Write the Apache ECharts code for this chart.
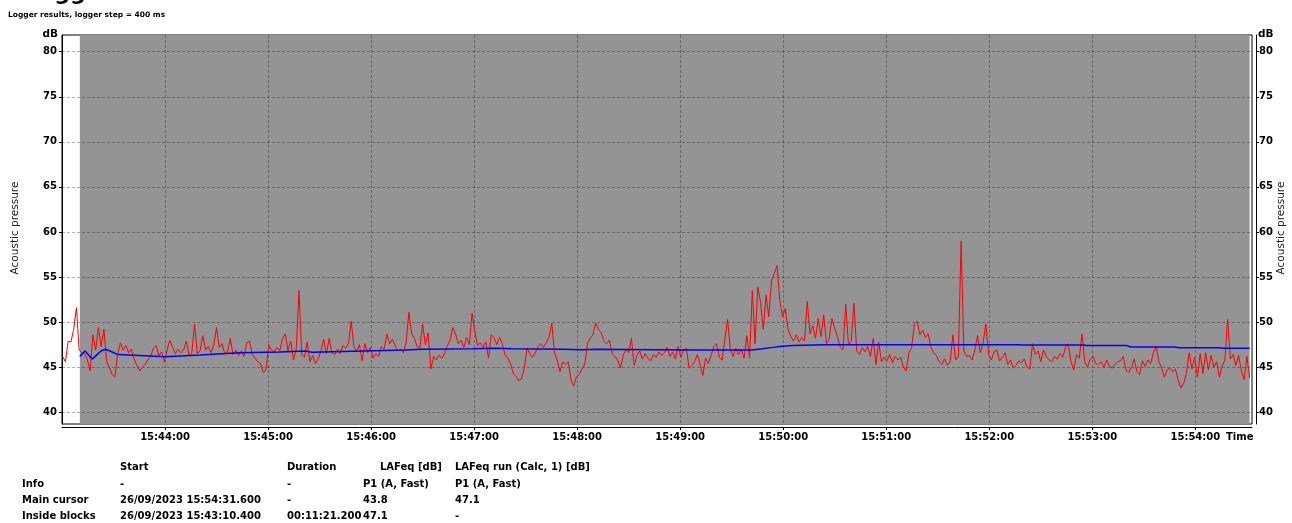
<!DOCTYPE html>
<html>
<head>
<meta charset="utf-8">
<script src="https://cdn.jsdelivr.net/npm/echarts@6/dist/echarts.min.js"></script>
<style>
  html, body { margin: 0; padding: 0; background: #fff; }
  #chart { width: 1292px; height: 523px; }
</style>
</head>
<body>
<div id="chart"></div>
<script>
// time is in seconds after 15:43:00
const tickSeconds = [60, 120, 180, 240, 300, 360, 420, 480, 540, 600, 660]
const tickLabels = ['15:44:00', '15:45:00', '15:46:00', '15:47:00', '15:48:00', '15:49:00',
  '15:50:00', '15:51:00', '15:52:00', '15:53:00', '15:54:00']
const dbTicks = [40, 45, 50, 55, 60, 65, 70, 75, 80]

// gray block = "Inside blocks" period
const blockStart = 10.4
const blockEnd = 691.6

// LAFeq [dB], P1 (A, Fast), read every 1.6 s from 15:43:00.4
const lafeqStart = 0.4
const lafeqStep = 1.6
const lafeq = [
  46.2, 45.6, 47.9, 47.8, 49.2, 51.6, 46.9, 46.6, 46.5, 45.8,
  44.6, 48.6, 46.9, 49.4, 47.3, 49.2, 45.6, 45.0, 44.2, 43.9,
  46.4, 47.7, 46.9, 47.4, 46.6, 47.0, 45.9, 45.2, 44.6, 45.0,
  45.3, 45.8, 46.2, 47.1, 47.4, 46.3, 46.7, 45.6, 46.9, 48.0,
  47.2, 46.5, 47.0, 46.6, 46.9, 47.9, 46.3, 46.6, 49.8, 46.5,
  46.8, 48.5, 46.9, 47.3, 46.6, 47.5, 49.4, 47.2, 47.6, 46.5,
  46.7, 48.2, 46.4, 46.9, 46.3, 46.8, 46.2, 47.7, 47.9, 46.4,
  46.0, 45.6, 45.4, 44.4, 44.7, 47.5, 46.9, 46.7, 47.2, 46.8,
  48.2, 48.7, 46.8, 47.9, 45.8, 47.0, 53.5, 46.4, 46.1, 47.8,
  45.6, 46.3, 45.4, 45.9, 46.8, 48.1, 46.5, 48.2, 46.6, 46.4,
  47.0, 46.5, 47.4, 47.1, 47.6, 50.1, 47.3, 46.8, 47.5, 45.7,
  47.6, 46.6, 47.2, 46.0, 46.5, 46.2, 47.3, 47.0, 48.7, 47.6,
  48.1, 47.4, 46.8, 47.0, 46.6, 47.7, 51.1, 48.7, 48.2, 47.3,
  47.1, 49.8, 47.5, 48.8, 44.8, 46.2, 45.8, 46.3, 46.0, 46.5,
  47.4, 48.0, 49.4, 48.7, 47.6, 48.0, 47.2, 48.3, 47.5, 51.0,
  49.0, 47.4, 47.7, 47.2, 47.8, 46.0, 48.6, 48.3, 47.5, 48.3,
  47.6, 46.4, 46.0, 45.4, 44.3, 44.0, 43.5, 43.7, 44.9, 47.1,
  46.5, 46.1, 46.6, 47.3, 47.6, 47.2, 47.7, 48.3, 49.9, 46.6,
  45.8, 44.5, 45.6, 45.3, 45.6, 43.6, 42.9, 43.9, 44.2, 44.8,
  45.3, 47.6, 48.2, 48.6, 49.9, 49.2, 48.8, 47.9, 47.6, 48.0,
  46.5, 46.2, 45.8, 44.9, 46.3, 47.0, 46.6, 48.2, 45.2, 46.3,
  46.8, 45.9, 46.5, 46.0, 45.7, 46.4, 46.1, 46.7, 46.3, 46.6,
  47.2, 46.2, 46.7, 45.9, 47.3, 46.1, 46.9, 47.1, 44.9, 45.2,
  45.6, 46.4, 45.3, 44.1, 46.0, 45.4, 46.3, 47.3, 47.6, 46.1,
  45.8, 48.1, 50.3, 47.0, 46.2, 47.1, 46.4, 47.0, 46.0, 48.5,
  46.0, 53.5, 47.6, 53.9, 52.2, 49.2, 53.0, 50.6, 54.6, 55.4,
  56.3, 52.4, 50.6, 51.5, 49.2, 48.4, 47.9, 48.6, 47.8, 48.3,
  47.9, 52.3, 48.7, 49.6, 48.2, 50.4, 48.4, 50.8, 47.6, 48.2,
  50.4, 49.3, 48.4, 47.2, 46.9, 52.0, 47.5, 47.9, 52.1, 46.8,
  46.4, 47.2, 46.7, 47.3, 46.2, 48.2, 45.3, 47.8, 45.6, 46.1,
  45.7, 46.4, 45.5, 46.2, 45.8, 46.1, 45.0, 44.6, 46.6, 47.2,
  49.8, 50.1, 48.6, 49.1, 48.3, 48.7, 47.2, 46.6, 46.3, 45.6,
  45.3, 45.9, 45.2, 45.6, 48.6, 45.8, 46.2, 59.0, 46.8, 46.2,
  46.3, 45.8, 46.9, 48.5, 46.6, 47.7, 49.8, 46.4, 45.8, 46.7,
  46.9, 45.7, 46.1, 46.6, 45.3, 45.8, 44.9, 45.2, 45.7, 45.5,
  45.9, 45.0, 44.8, 47.6, 46.4, 46.8, 45.6, 46.9, 46.2, 45.8,
  45.6, 46.2, 45.9, 46.5, 46.1, 47.2, 47.6, 45.6, 44.7, 46.4,
  46.0, 48.7, 45.6, 45.0, 45.9, 46.2, 45.4, 45.3, 45.6, 45.0,
  45.8, 45.1, 44.9, 45.3, 45.6, 45.7, 46.2, 44.7, 44.4, 45.0,
  45.9, 44.5, 44.2, 45.7, 45.1, 45.8, 45.4, 46.6, 47.3, 45.6,
  44.9, 43.9, 44.7, 44.9, 44.5, 44.8, 43.6, 42.7, 43.2, 44.3,
  46.6, 44.8, 46.1, 43.9, 46.5, 44.3, 46.6, 44.7, 46.3, 45.0,
  45.6, 43.9, 45.1, 45.8, 50.3, 45.9, 46.4, 45.2, 46.3, 44.6,
  43.6, 46.2, 43.8
]

// LAFeq run (Calc, 1) [dB]
const runTimes = [10.4, 13.4, 15.2, 17.6, 20.4, 22.8, 25.2, 28.0, 32.4, 45.2,
  60.0, 80.4, 103.6, 126.8, 141.6, 145.6, 163.6, 188.0, 199.6, 209.6,
  238.8, 252.0, 262.4, 291.2, 302.8, 311.6, 346.4, 371.6, 401.6, 408.0,
  414.0, 418.0, 425.6, 444.4, 556.8, 559.2, 594.4, 596.8, 620.0, 622.4,
  648.0, 650.4, 674.0, 676.4, 691.6]
const runValues = [46.2, 46.8, 46.4, 45.9, 46.4, 46.8, 47.0, 46.8, 46.4, 46.3,
  46.15, 46.35, 46.6, 46.7, 46.8, 46.65, 46.75, 46.85, 46.9, 47.0,
  47.05, 47.1, 47.05, 47.0, 46.95, 47.0, 46.95, 46.9, 46.9, 47.05,
  47.2, 47.3, 47.4, 47.5, 47.5, 47.45, 47.45, 47.4, 47.4, 47.25,
  47.25, 47.15, 47.15, 47.1, 47.1]

// results table under the chart
const tableHeader = ['Start', 'Duration', 'LAFeq [dB]', 'LAFeq run (Calc, 1) [dB]']
const tableRows = [
  ['Info', '-', '-', 'P1 (A, Fast)', 'P1 (A, Fast)'],
  ['Main cursor', '26/09/2023 15:54:31.600', '-', '43.8', '47.1'],
  ['Inside blocks', '26/09/2023 15:43:10.400', '00:11:21.200', '47.1', '-'],
]

const FONT = '"DejaVu Sans", Verdana, sans-serif'
const boldLabel = { fontFamily: FONT, fontWeight: 'bold', fontSize: 10, color: '#000' }
const gridDash = { color: 'rgba(0,0,0,0.3)', width: 1, type: [3, 2] }

function txt(x, y, text, size, opts, extra) {
  return Object.assign({
    type: 'text', x: x, y: y, silent: true,
    style: Object.assign({
      text: text,
      font: 'bold ' + size + 'px ' + FONT,
      fill: '#000',
      align: 'left',
      verticalAlign: 'middle',
    }, opts || {}),
  }, extra || {})
}

const axisName = { font: '10.5px ' + FONT, fill: '#222', align: 'center' }
const graphics = [
  // page heading, mostly above the visible area
  txt(25, 5, 'Logger', 22, { verticalAlign: 'bottom' }),
  txt(8, 15, 'Logger results, logger step = 400 ms', 7.5),
  txt(58, 34, 'dB', 10.5, { align: 'right' }),
  txt(1258, 34, 'dB', 10.5),
  txt(1226, 437, 'Time', 10),
  txt(15, 228, 'Acoustic pressure', 10.5, axisName, { rotation: Math.PI / 2 }),
  txt(1281, 228, 'Acoustic pressure', 10.5, axisName, { rotation: Math.PI / 2 }),
]
const headerX = [120, 287, 380, 455]
tableHeader.forEach((h, i) => graphics.push(txt(headerX[i], 467, h, 10)))
const colX = [22, 120, 287, 363, 455]
tableRows.forEach((row, r) => {
  row.forEach((cell, c) => graphics.push(txt(colX[c], 484 + r * 16, cell, 10)))
})

function yAxisDef(pos, offset, split) {
  return {
    type: 'value', position: pos, min: 38.7, max: 81.85, offset: offset,
    axisLine: { show: true, lineStyle: { color: '#000', width: 1 } },
    axisTick: { show: true, customValues: dbTicks, length: 3, lineStyle: { color: '#000' } },
    axisLabel: Object.assign({ customValues: dbTicks, margin: 3 }, boldLabel),
    splitLine: { show: split, lineStyle: gridDash },
  }
}

const chart = echarts.init(document.getElementById('chart'))
chart.setOption({
  animation: false,
  grid: {
    left: 62, right: 40, top: 35, bottom: 99, z: -2,
    outerBoundsMode: 'none', containLabel: false,
    show: true, backgroundColor: '#fff', borderColor: '#000', borderWidth: 1,
  },
  xAxis: {
    type: 'value', min: 0, max: 693, offset: 3,
    axisLine: { onZero: false, lineStyle: { color: '#000', width: 1 } },
    axisTick: { customValues: tickSeconds, length: 3, lineStyle: { color: '#000' } },
    axisLabel: Object.assign({
      customValues: tickSeconds, margin: 5,
      formatter: v => tickLabels[tickSeconds.indexOf(v)] || '',
    }, boldLabel),
    splitLine: { show: true, lineStyle: gridDash },
  },
  yAxis: [yAxisDef('left', 2, true), yAxisDef('right', 4, false)],
  graphic: graphics,
  series: [
    {
      type: 'custom', z: -1, silent: true,
      data: [[blockStart, blockEnd]],
      encode: { x: [0, 1] },
      renderItem: (params, api) => {
        const a = api.coord([api.value(0), 50])
        const b = api.coord([api.value(1), 50])
        const cs = params.coordSys
        return {
          type: 'rect',
          shape: { x: a[0], y: cs.y, width: b[0] - a[0], height: cs.height },
          style: { fill: '#949494' },
        }
      },
    },
    {
      name: 'LAFeq', type: 'line', z: 3, silent: true, showSymbol: false,
      data: lafeq.map((v, i) => [lafeqStart + i * lafeqStep, v]),
      lineStyle: { color: '#ff0000', width: 1 },
    },
    {
      name: 'LAFeq run', type: 'line', z: 4, silent: true, showSymbol: false,
      data: runTimes.map((t, i) => [t, runValues[i]]),
      lineStyle: { color: '#0000ff', width: 1.5 },
    },
  ],
})
</script>
</body>
</html>
